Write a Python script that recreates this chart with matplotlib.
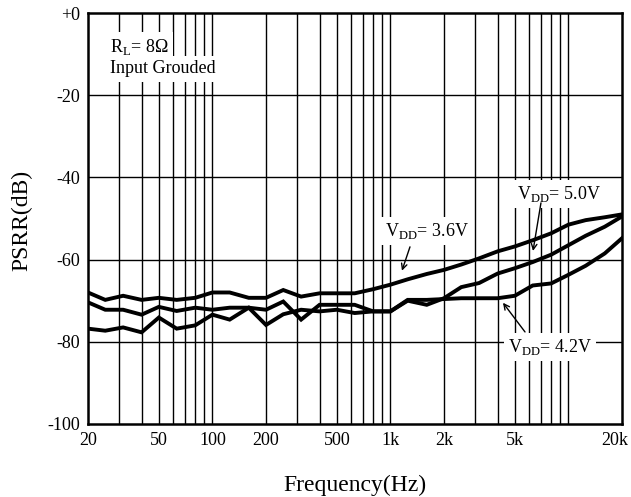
import numpy as np
import matplotlib
matplotlib.use('Agg')
import matplotlib.pyplot as plt
import matplotlib.transforms as mtrans
from matplotlib.ticker import FixedLocator, NullLocator

plt.rcParams['font.family'] = 'Liberation Serif'
plt.rcParams['mathtext.fontset'] = 'custom'
plt.rcParams['mathtext.rm'] = 'Liberation Serif'

# 1/3 octave frequencies (Hz)
freq = [20, 25, 31.5, 40, 50, 63, 80, 100, 125, 160, 200, 250, 315, 400, 500, 630,
        800, 1000, 1250, 1600, 2000, 2500, 3150, 4000, 5000, 6300, 8000, 10000,
        12500, 16000, 20000]

psrr_36 = [-68.0, -69.8, -68.8, -69.8, -69.3, -69.8, -69.3, -68.0, -68.0, -69.3, -69.3,
           -67.4, -69.0, -68.2, -68.2, -68.2, -67.2, -66.1, -64.8, -63.5, -62.5, -61.2,
           -59.7, -58.0, -56.8, -55.3, -53.6, -51.5, -50.4, -49.7, -49.0]
psrr_42 = [-70.4, -72.2, -72.2, -73.4, -71.5, -72.5, -71.7, -72.2, -71.7, -71.7, -72.2,
           -70.2, -74.6, -71.0, -71.0, -71.0, -72.6, -72.6, -69.8, -69.8, -69.6, -69.4,
           -69.4, -69.4, -68.8, -66.3, -65.8, -63.7, -61.5, -58.5, -54.8]
psrr_50 = [-76.8, -77.3, -76.5, -77.7, -74.1, -76.8, -76.0, -73.4, -74.6, -71.7, -75.9,
           -73.3, -72.2, -72.6, -72.2, -73.0, -72.6, -72.6, -70.0, -71.0, -69.4, -66.7,
           -65.7, -63.4, -62.1, -60.6, -58.8, -56.5, -54.2, -52.0, -49.5]

xticks = [20, 50, 100, 200, 500, 1000, 2000, 5000, 20000]
xticklabels = ['20', '50', '100', '200', '500', '1k', '2k', '5k', '20k']
yticks = [0, -20, -40, -60, -80, -100]
yticklabels = ['+0', '-20', '-40', '-60', '-80', '-100']

fig = plt.figure(figsize=(6.31, 4.97), dpi=100)
ax = fig.add_axes([88/631, 73/497, 534/631, 411/497])

# vertical grid at every 1-2-...-9 decade step
vgrid = [m * 10**e for e in range(1, 5) for m in range(1, 10)]
vgrid = [v for v in vgrid if 20 < v < 20000]
for v in vgrid:
    ax.axvline(v, color='black', lw=1.0, zorder=1)
for h in [-20, -40, -60, -80]:
    ax.axhline(h, color='black', lw=1.0, zorder=1)

for series in [psrr_36, psrr_42, psrr_50]:
    ax.plot(freq, series, color='black', lw=2.8, solid_joinstyle='miter', zorder=3)

ax.set_xscale('log')
ax.set_xlim(20, 20000)
ax.set_ylim(-100, 0)
ax.xaxis.set_major_locator(FixedLocator(xticks))
ax.xaxis.set_minor_locator(NullLocator())
ax.set_xticklabels(xticklabels)
ax.set_yticks(yticks)
ax.set_yticklabels(yticklabels)
ax.tick_params(length=0, labelsize=13, pad=6)
# last label sits a bit inside the right edge
last = ax.get_xticklabels()[-1]
last.set_transform(last.get_transform() +
                   mtrans.ScaledTranslation(-5/72, 0, fig.dpi_scale_trans))
for sp in ax.spines.values():
    sp.set_linewidth(1.8)
    sp.set_zorder(5)

fig.text(355/631, 1 - 485/497, 'Frequency(Hz)', fontsize=17, ha='center', va='center')
fig.text(22/631, 1 - 220/497, 'PSRR(dB)', fontsize=17, ha='center', va='center',
         rotation=90)

box = dict(facecolor='white', edgecolor='none', pad=3)
tk = dict(fontsize=13, color='black', zorder=4, va='baseline', ha='left')
ax.text(26.6, -9.4, r'R$_{\mathrm{L}}$= 8Ω', bbox=box, **tk)
ax.text(26.6, -14.7, 'Input Grouded', bbox=box, **tk)
ax.text(932, -54.2, r'V$_{\mathrm{DD}}$= 3.6V', bbox=box, **tk)
ax.text(5119, -45.3, r'V$_{\mathrm{DD}}$= 5.0V', bbox=box, **tk)
ax.text(4595, -82.5, r'V$_{\mathrm{DD}}$= 4.2V', bbox=box, **tk)

arr = dict(arrowstyle='->', color='black', lw=1.0, shrinkA=0, shrinkB=0)
ax.annotate('', xy=(1161, -62.7), xytext=(1288, -56.9), arrowprops=arr, zorder=4)
ax.annotate('', xy=(6325, -57.9), xytext=(7011, -46.2), arrowprops=arr, zorder=4)
ax.annotate('', xy=(4289, -70.5), xytext=(5703, -77.6), arrowprops=arr, zorder=4)

fig.savefig('out.png', dpi=100)
